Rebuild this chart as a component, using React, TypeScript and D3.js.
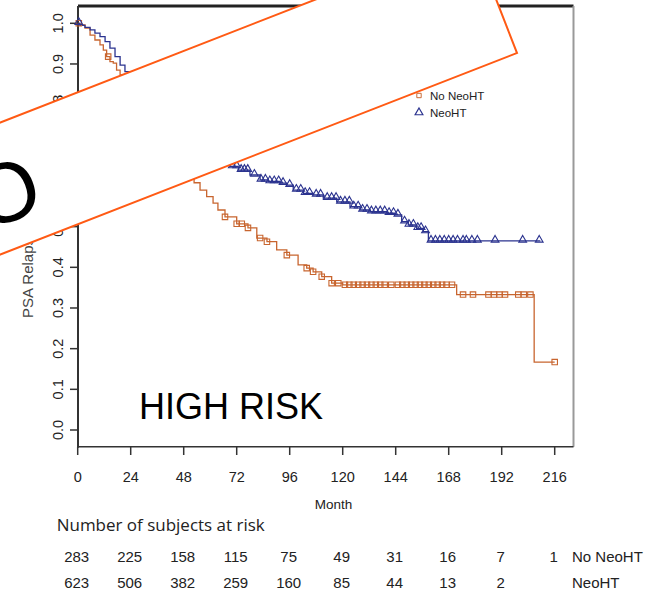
import * as d3 from 'd3';

// Kaplan-Meier steps (months, survival)
const noNeoTimes = [0, 1, 3.3, 5.6, 7.8, 10.1, 11.6, 13.1, 14.6, 16.1, 17.6, 19.2, 22, 25, 28, 31, 34, 37, 40, 43, 46, 49, 52.7, 55.4, 58.4, 61.3, 63.5, 66.7, 72, 77.1, 81.1, 85.7, 90.1, 94.7, 99.8, 103.7, 106.6, 110.5, 115, 120, 171.6, 206.7];
const noNeoSurv = [1.0, 0.996, 0.988, 0.971, 0.959, 0.947, 0.934, 0.918, 0.906, 0.902, 0.885, 0.873, 0.85, 0.825, 0.8, 0.775, 0.75, 0.725, 0.7, 0.68, 0.655, 0.63, 0.608, 0.59, 0.574, 0.558, 0.541, 0.524, 0.507, 0.497, 0.472, 0.463, 0.443, 0.43, 0.406, 0.398, 0.389, 0.377, 0.361, 0.357, 0.333, 0.167];
const noNeoEnd = 216;
const noNeoCensor = [0.5, 13.8, 30, 40, 48, 66.7, 72, 74.3, 77.1, 82.6, 85.7, 94.7, 103.7, 106.6, 110.5, 115, 118, 121, 123, 125, 127, 129, 131, 133, 135, 137, 139, 142, 145, 147, 149, 151, 153, 155, 157, 159, 161, 163, 165, 167, 169.5, 174.5, 179, 186, 188.5, 191, 193.5, 199.5, 202, 205, 216];

const neoTimes = [0, 1, 3.3, 5.6, 7.8, 10.1, 12.4, 14.6, 16.9, 19.2, 21.4, 26, 30, 34, 38, 42, 46, 50, 54, 58, 62, 66, 69, 72.7, 78, 82.6, 86.3, 91.6, 94.7, 97.6, 102.2, 106.7, 111.2, 117.3, 123.3, 127.9, 132.4, 140, 143.7, 146.7, 149.7, 153.5, 156.5, 158.8];
const neoSurv = [1.0, 0.995, 0.99, 0.984, 0.976, 0.967, 0.955, 0.939, 0.918, 0.897, 0.881, 0.862, 0.842, 0.818, 0.795, 0.774, 0.754, 0.735, 0.716, 0.699, 0.683, 0.666, 0.648, 0.639, 0.627, 0.615, 0.611, 0.607, 0.602, 0.59, 0.582, 0.578, 0.57, 0.561, 0.549, 0.541, 0.537, 0.533, 0.529, 0.512, 0.504, 0.496, 0.488, 0.465];
const neoEnd = 209.5;
const neoCensor = [0.5, 30, 40, 50, 60, 70, 72, 74, 75.5, 77, 80, 83, 85, 87, 89, 91, 93, 96, 99, 101, 103, 105, 108, 110, 113, 115, 117, 119, 121, 123, 125, 127, 129, 131, 133, 135, 137, 139, 141, 143, 145, 148, 150, 152, 154, 155.5, 157.5, 160, 162, 164, 166, 168, 170, 172, 174.5, 176, 178.5, 181, 189, 201.5, 209];

const monthTicks = [0, 24, 48, 72, 96, 120, 144, 168, 192, 216];
const survTicks = [0, 0.1, 0.2, 0.3, 0.4, 0.5, 0.6, 0.7, 0.8, 0.9, 1.0];
const noNeoAtRisk = [283, 225, 158, 115, 75, 49, 31, 16, 7, 1];
const neoAtRisk = [623, 506, 382, 259, 160, 85, 44, 13, 2];

const ORANGE = '#c8652f';
const BLUE = '#2b338f';

export default function App() {
  const x = d3.scaleLinear().domain([0, 216]).range([77.7, 554.7]);
  const y = d3.scaleLinear().domain([0, 1]).range([430, 23.3]);

  const left = 78, right = 573.5, top = 6, bottom = y(-0.041);

  const stepPath = (times: number[], surv: number[], end: number) => {
    const pts: [number, number][] = times.map((t, i) => [t, surv[i]]);
    pts.push([end, surv[surv.length - 1]]);
    return d3.line<[number, number]>()
      .x(d => x(d[0]))
      .y(d => y(d[1]))
      .curve(d3.curveStepAfter)(pts) as string;
  };

  const survAt = (times: number[], surv: number[], t: number) =>
    surv[Math.max(0, d3.bisectRight(times, t) - 1)];

  const square = d3.symbol(d3.symbolSquare, 30)() as string;
  const triangle = d3.symbol(d3.symbolTriangle, 26)() as string;

  const tickFont = { fontFamily: 'Liberation Sans, Arial, sans-serif', fontSize: 14.5, fill: '#222' };

  return (
    <svg width={656} height={592} style={{ position: 'absolute', left: 0, top: 0, background: '#fff' }}>
      {/* frame */}
      <line x1={left} x2={right} y1={top} y2={top} stroke="#222" strokeWidth={3} />
      <line x1={right} x2={right} y1={top} y2={bottom} stroke="#999" strokeWidth={2} />
      <line x1={left} x2={left} y1={top} y2={bottom + 1} stroke="#333" strokeWidth={2} />
      <line x1={left} x2={right} y1={bottom} y2={bottom} stroke="#333" strokeWidth={1.5} />

      {/* y axis */}
      {survTicks.map(v => (
        <g key={v}>
          <line x1={70} x2={left} y1={y(v)} y2={y(v)} stroke="#333" strokeWidth={1.5} />
          <text transform={`translate(63,${y(v)}) rotate(-90)`} textAnchor="middle" {...tickFont}>{v.toFixed(1)}</text>
        </g>
      ))}
      <text transform="translate(33,318) rotate(-90)" textAnchor="start"
        fontFamily="Liberation Sans, Arial, sans-serif" fontSize={15} fill="#444">PSA Relapse Free Survival</text>

      {/* x axis */}
      {monthTicks.map(m => (
        <g key={m}>
          <line x1={x(m)} x2={x(m)} y1={bottom} y2={455} stroke="#333" strokeWidth={1.5} />
          <text x={x(m)} y={481.5} textAnchor="middle" {...tickFont}>{m}</text>
        </g>
      ))}
      <text x={333.5} y={509} textAnchor="middle" fontFamily="Liberation Sans, Arial, sans-serif" fontSize={13.5} fill="#222">Month</text>

      {/* curves */}
      <path d={stepPath(noNeoTimes, noNeoSurv, noNeoEnd)} fill="none" stroke={ORANGE} strokeWidth={1.3} />
      <path d={stepPath(neoTimes, neoSurv, neoEnd)} fill="none" stroke={BLUE} strokeWidth={1.3} />
      {noNeoCensor.map((t, i) => (
        <path key={'s' + i} d={square} transform={`translate(${x(t)},${y(survAt(noNeoTimes, noNeoSurv, t))})`}
          fill="none" stroke={ORANGE} strokeWidth={1.1} />
      ))}
      {neoCensor.map((t, i) => (
        <path key={'t' + i} d={triangle} transform={`translate(${x(t)},${y(survAt(neoTimes, neoSurv, t)) - 1})`}
          fill="none" stroke={BLUE} strokeWidth={1.1} />
      ))}

      {/* legend */}
      <path d={square} transform="translate(419,95.5) scale(0.8)" fill="none" stroke={ORANGE} strokeWidth={1.2} />
      <path d={triangle} transform="translate(419,112.5)" fill="none" stroke={BLUE} strokeWidth={1.2} />
      <text x={430} y={100} fontFamily="Liberation Sans, Arial, sans-serif" fontSize={11.5} fill="#222">No NeoHT</text>
      <text x={430} y={117} fontFamily="Liberation Sans, Arial, sans-serif" fontSize={11.5} fill="#222">NeoHT</text>

      <text x={139} y={418.5} fontFamily="Liberation Sans, Arial, sans-serif" fontSize={36} fill="#000">HIGH RISK</text>

      {/* risk table */}
      <text x={56.7} y={530.5} fontFamily="Open Sans, sans-serif" fontSize={15.5} fill="#222"
        textLength={208} lengthAdjust="spacingAndGlyphs">Number of subjects at risk</text>
      {noNeoAtRisk.map((n, i) => (
        <text key={'a' + i} x={x(monthTicks[i]) - 1} y={561.5} textAnchor="middle" {...tickFont} fontSize={15}>{n}</text>
      ))}
      {neoAtRisk.map((n, i) => (
        <text key={'b' + i} x={x(monthTicks[i]) - 1} y={587.5} textAnchor="middle" {...tickFont} fontSize={15}>{n}</text>
      ))}
      <text x={572} y={561.5} {...tickFont} fontSize={15}>No NeoHT</text>
      <text x={572} y={588} {...tickFont} fontSize={15}>NeoHT</text>

      {/* overlay banner */}
      <g transform="translate(517,53) rotate(-21.3)">
        <rect x={-900} y={-123} width={900} height={123} fill="#fff" stroke="#ff5a14" strokeWidth={2} />
        <text x={-527} y={-26.6} textAnchor="middle" fontFamily="Liberation Sans, Arial, sans-serif" fontSize={85} fill="#000">O</text>
      </g>
    </svg>
  );
}
